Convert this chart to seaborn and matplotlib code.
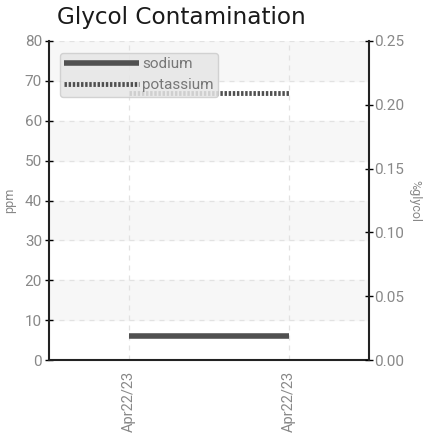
import matplotlib
matplotlib.use("Agg")
import matplotlib.pyplot as plt
import seaborn as sns
import pandas as pd

# data
dates = ["Apr22/23", "Apr22/23"]
sodium = [6, 6]
potassium = [67, 67]
y_ticks = [0, 10, 20, 30, 40, 50, 60, 70, 80]
glycol_ticks = [0.00, 0.05, 0.10, 0.15, 0.20, 0.25]

sns.set_style("white")
plt.rcParams["font.family"] = ["Roboto", "DejaVu Sans"]

df = pd.DataFrame({"x": [0, 1], "sodium": sodium, "potassium": potassium})

fig = plt.figure(figsize=(4.29, 4.37), dpi=100)
ax = fig.add_axes([49 / 429, 1 - 360 / 437, 320 / 429, 319 / 437])

# alternating bands
for lo in y_ticks[1::2]:
    ax.axhspan(lo, lo + 10, color="#f7f7f7", zorder=0)

sns.lineplot(data=df, x="x", y="sodium", ax=ax, color="#505050", lw=4,
             label="sodium", solid_capstyle="butt")
sns.lineplot(data=df, x="x", y="potassium", ax=ax, color="#505050", lw=3.5,
             label="potassium", linestyle=(0, (0.5, 0.35)))

ax.set_xlim(-0.5, 1.5)
ax.set_ylim(0, 80)
ax.set_xticks([0, 1])
ax.set_xticklabels(dates, rotation=90, color="#888888", fontsize=10.5)
ax.set_yticks(y_ticks)
ax.tick_params(axis="y", colors="#888888", labelsize=11, direction="inout",
               length=6, width=1, pad=2)
ax.tick_params(axis="x", direction="inout", length=8, width=1.5, color="black")
ax.tick_params(axis="y", color="black")
ax.set_xlabel("")
ax.set_ylabel("ppm", color="#888888", fontsize=9, labelpad=6)
ax.grid(True, ls=(0, (4, 4)), color="#e2e2e2", lw=0.9)
for s in ["left", "bottom"]:
    ax.spines[s].set_color("#222222")
    ax.spines[s].set_linewidth(1.5)
ax.spines["top"].set_visible(False)
ax.spines["right"].set_visible(False)

ax2 = ax.twinx()
ax2.set_ylim(0, 0.25)
ax2.set_yticks(glycol_ticks)
ax2.set_yticklabels([f"{t:.2f}" for t in glycol_ticks])
ax2.tick_params(axis="y", colors="#888888", labelsize=11, direction="inout",
                length=6, width=1, pad=1)
ax2.tick_params(axis="y", color="black")
ax2.set_ylabel("%glycol", color="#888888", fontsize=9, rotation=270, labelpad=12)
ax2.spines["right"].set_color("#222222")
ax2.spines["right"].set_linewidth(1.5)
for s in ["top", "left", "bottom"]:
    ax2.spines[s].set_visible(False)

leg = ax.legend(loc="upper left", bbox_to_anchor=(0.034, 0.963), handlelength=4.9,
                handletextpad=0.2, fontsize=11, labelspacing=0.46,
                frameon=True, fancybox=True, borderpad=0.3, borderaxespad=0)
leg.get_frame().set_facecolor("#e6e6e6")
leg.get_frame().set_edgecolor("#cccccc")
leg.get_frame().set_alpha(0.85)
for t in leg.get_texts():
    t.set_color("#777777")

fig.text(57 / 429, 1 - 24 / 437, "Glycol Contamination", fontsize=16.7,
         color="#1a1a1a", family="DejaVu Sans", va="baseline")

fig.savefig("out.png", dpi=100)
